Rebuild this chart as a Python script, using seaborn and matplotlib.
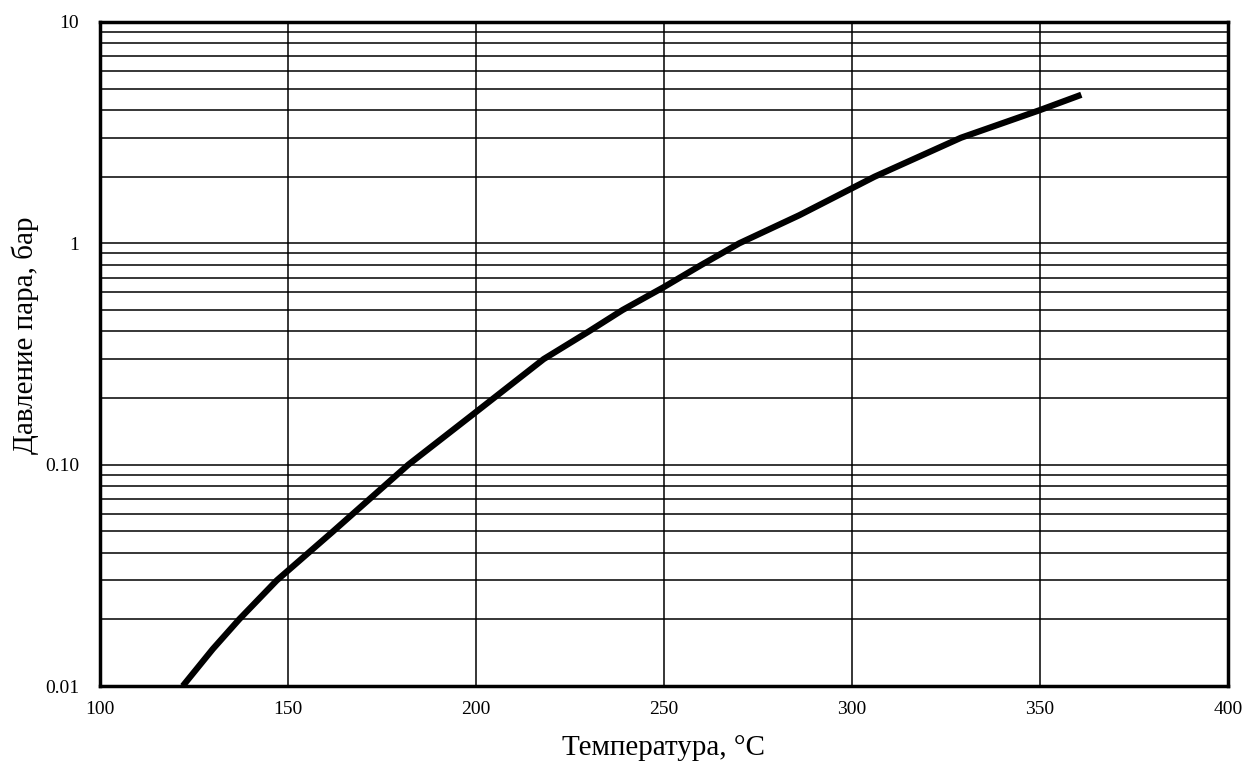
import matplotlib
matplotlib.use("Agg")
import matplotlib.pyplot as plt
import seaborn as sns
import pandas as pd
from matplotlib.ticker import FixedLocator, LogLocator, NullFormatter

temperature = [122, 130, 137, 147, 162, 182, 200, 218, 230, 239, 250, 260, 270, 286, 306, 329, 350, 361]
pressure = [0.01, 0.0147, 0.02, 0.03, 0.05, 0.1, 0.173, 0.3, 0.4, 0.5, 0.635, 0.8, 1.0, 1.34, 2.0, 3.0, 4.0, 4.69]
x_ticks = [100, 150, 200, 250, 300, 350, 400]
y_ticks = [0.01, 0.1, 1, 10]
y_tick_labels = ["0.01", "0.10", "1", "10"]

sns.set_style("white")
plt.rcParams['font.family'] = ['Liberation Serif', 'DejaVu Serif']
plt.rcParams['text.color'] = 'black'
plt.rcParams['axes.labelcolor'] = 'black'
plt.rcParams['xtick.color'] = 'black'
plt.rcParams['ytick.color'] = 'black'

fig = plt.figure(figsize=(12.52, 7.69), dpi=100)
ax = fig.add_axes([0.0799, 0.1079, 0.9009, 0.8635])

df = pd.DataFrame({"T": temperature, "P": pressure})
sns.lineplot(data=df, x="T", y="P", ax=ax, color="black", linewidth=4.5,
             solid_capstyle="butt", solid_joinstyle="round", zorder=5)

ax.set_yscale("log")
ax.set_xlim(100, 400)
ax.set_ylim(0.01, 10)
ax.set_xticks(x_ticks)
ax.set_xticklabels([str(v) for v in x_ticks])
ax.yaxis.set_major_locator(FixedLocator(y_ticks))
ax.set_yticklabels(y_tick_labels)
ax.yaxis.set_minor_locator(LogLocator(base=10, subs=range(2, 10)))
ax.yaxis.set_minor_formatter(NullFormatter())

ax.grid(True, which="major", axis="both", color="black", linewidth=1.1)
ax.grid(True, which="minor", axis="y", color="black", linewidth=1.1)
ax.tick_params(axis="both", which="both", length=0, labelsize=14, labelcolor="black")
ax.tick_params(axis="x", pad=11)
ax.tick_params(axis="y", pad=15)

for s in ax.spines.values():
    s.set_visible(True)
    s.set_color("black")
    s.set_linewidth(2.5)

ax.set_xlabel("Температура, °С", fontsize=21, labelpad=12, color="black")
ax.set_ylabel("Давление пара, бар", fontsize=21, color="black")
ax.yaxis.set_label_coords(-0.054, 0.529)

fig.savefig("out.png", dpi=100, facecolor="white")
